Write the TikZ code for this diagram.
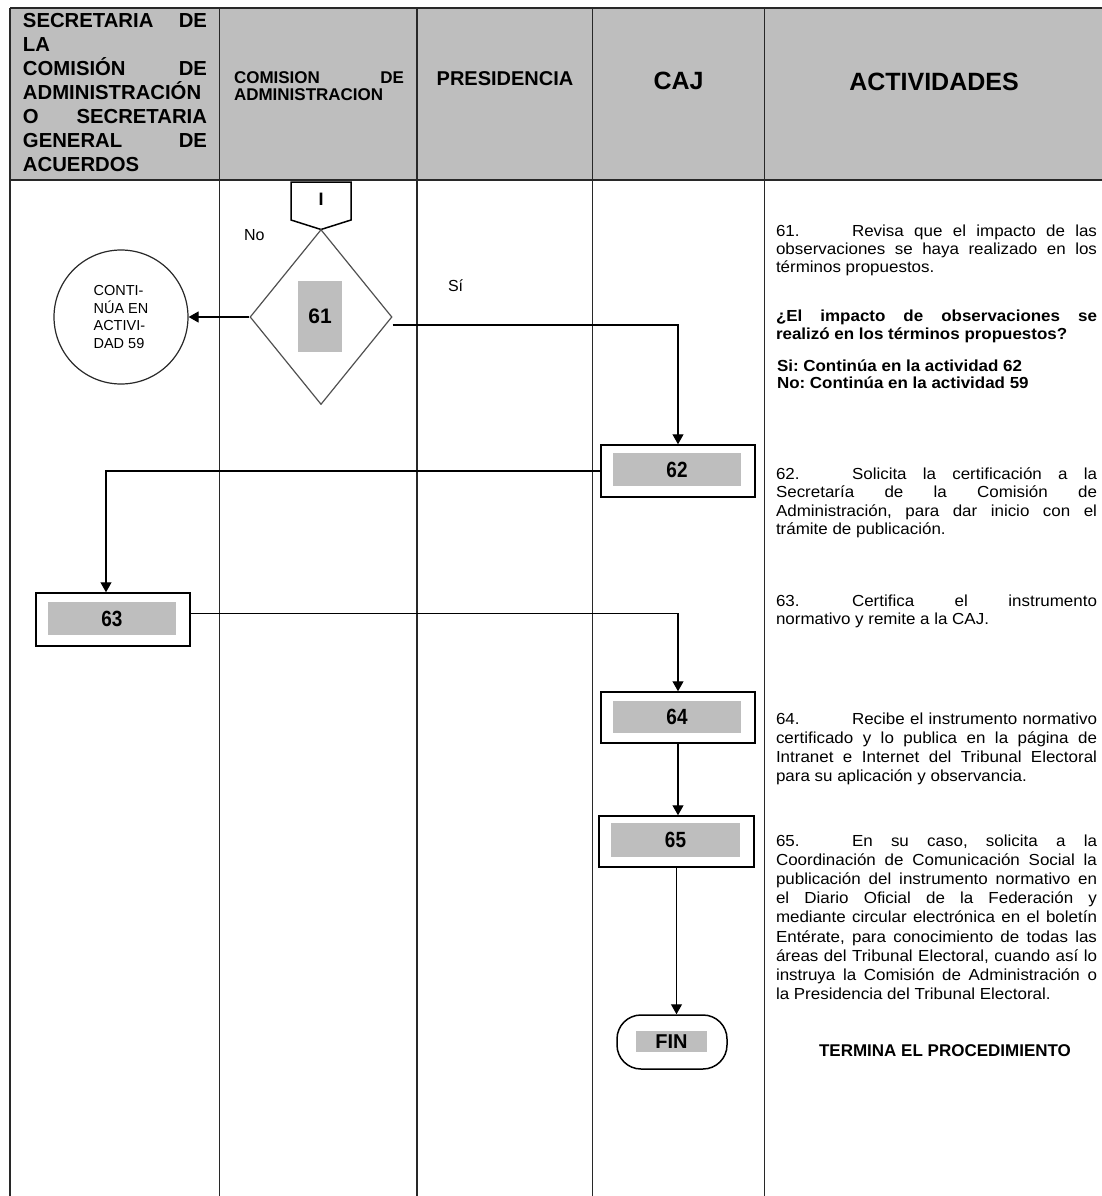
\documentclass[tikz,border=0pt]{standalone}
\usepackage{fontspec}
\setmainfont{Liberation Sans}
\newfontfamily\actfont[FakeStretch=1.06]{Liberation Sans}
\newfontfamily\numfont[FakeStretch=0.86]{Liberation Sans}
\usetikzlibrary{shapes.geometric,arrows.meta,calc}

\definecolor{hdrgray}{RGB}{190,190,190}
\definecolor{boxgray}{RGB}{190,190,190}
\definecolor{linegray}{RGB}{40,40,40}
\definecolor{diagray}{RGB}{80,80,80}

% justified line, left line, number with tab stop
\newcommand\jline[1]{\hbox to \hsize{#1}}
\newcommand\lline[1]{\hbox{#1}}
\newcommand\tabnum[1]{\hbox to 76pt{#1\hfil}}

\tikzset{
  tline/.style={line width=1.6pt, draw=linegray},
  arr/.style={line width=1.2pt, -{Triangle[length=10pt,width=11pt]}},
  outerbox/.style={draw, line width=1.5pt, inner sep=0, minimum width=154pt, minimum height=52pt},
  graybox/.style={fill=boxgray, inner sep=0, minimum width=128pt, minimum height=33pt,
    font=\numfont\bfseries\fontsize{22}{22}\selectfont},
  txt/.style={inner sep=0, outer sep=0},
}

\begin{document}
\frenchspacing
\begin{tikzpicture}[x=1pt, y=-1pt]
\useasboundingbox (0,0) rectangle (1102,1196);

% header band
\fill[hdrgray] (10,8) rectangle (1102,180);
\draw[line width=2.4pt, draw=linegray] (10,8) -- (1102,8);
\draw[line width=2pt, draw=linegray] (10,180) -- (1102,180);
\foreach \cx in {10,219.5,417,592.5,764.5}
  \draw[tline] (\cx,8) -- (\cx,1196);

% header titles
\node[txt, anchor=base west] (h1) at (23,28)
  {\bfseries\fontsize{20.3}{24}\selectfont\vtop{\hsize=184pt
    \jline{SECRETARIA DE}
    \lline{LA}
    \jline{COMISIÓN DE}
    \lline{ADMINISTRACIÓN}
    \jline{O SECRETARIA}
    \jline{GENERAL DE}
    \lline{ACUERDOS}}};
\node[txt, anchor=base west] (h2) at (234,84)
  {\bfseries\fontsize{17}{17}\selectfont\vtop{\hsize=170pt
    \jline{COMISION DE}
    \lline{ADMINISTRACION}}};
\node[txt, anchor=base, font=\bfseries\fontsize{20}{20}\selectfont] (h3) at (505,86) {PRESIDENCIA};
\node[txt, anchor=base, font=\bfseries\fontsize{25}{25}\selectfont] (h4) at (678.5,90) {CAJ};
\node[txt, anchor=base, font=\bfseries\fontsize{25}{25}\selectfont] (h5) at (934,91) {ACTIVIDADES};

% off-page connector
\draw[line width=1.5pt] (291,182) -- (351,182) -- (351,220) -- (321,229.5) -- (291,220) -- cycle;
\node[txt, font=\bfseries\fontsize{18}{18}\selectfont] (conI) at (321,199) {I};

% decision 61
\node[diamond, draw=diagray, line width=1.2pt, inner sep=0, minimum width=142pt, minimum height=175pt] (d61) at (321,317) {};
\node[fill=boxgray, inner sep=0, minimum width=44pt, minimum height=71pt,
  font=\bfseries\fontsize{21}{21}\selectfont] (g61) at (320,316.5) {61};
\node[txt, anchor=base west, font=\fontsize{16}{16}\selectfont] (lno) at (244,240) {No};
\node[txt, anchor=base west, font=\fontsize{16}{16}\selectfont] (lsi) at (448,291) {Sí};

% connector to activity 59
\node[circle, draw=linegray, line width=1.2pt, inner sep=0, minimum size=134pt, align=left,
  font=\fontsize{14.5}{17.6}\selectfont] (c59) at (121,317) {CONTI-\\NÚA EN\\ACTIVI-\\DAD 59};

% process boxes
\node[outerbox] (b62) at (678,471) {};
\node[graybox] (g62) at (677,469.5) {62};
\node[outerbox, minimum height=53pt] (b63) at (113,619.5) {};
\node[graybox] (g63) at (112,618.5) {63};
\node[outerbox, minimum height=51pt] (b64) at (678,717.5) {};
\node[graybox, minimum height=32pt] (g64) at (677,717) {64};
\node[outerbox, minimum width=155pt, minimum height=51pt] (b65) at (676.5,841.5) {};
\node[graybox, minimum width=129pt, minimum height=34pt] (g65) at (675.5,840) {65};
\node[draw, line width=1.5pt, rounded corners=24pt, inner sep=0, minimum width=110pt, minimum height=54pt] (fin) at (672,1042) {};
\node[fill=boxgray, inner sep=0, minimum width=71pt, minimum height=21pt,
  font=\bfseries\fontsize{20}{20}\selectfont] (gfin) at (671.5,1041.5) {FIN};

% flow
\draw[arr] (d61.west) -- (c59.east);
\draw[arr] ([yshift=-8pt]d61.east) -| (b62.north);
\draw[arr] (b62.west) -| ([xshift=-7pt]b63.north);
\draw[arr] ([yshift=6pt]b63.east) -| (b64.north);
\draw[arr] (b64.south) -- (b64.south |- b65.north);
\draw[arr] (b65.south) -- (b65.south |- fin.north);

% activity descriptions
\node[txt, anchor=base west] (t61) at (776,236.5)
  {\actfont\fontsize{16}{18}\selectfont\vtop{\hsize=321pt
    \jline{\tabnum{61.}Revisa que el impacto de las}
    \jline{observaciones se haya realizado en los}
    \lline{términos propuestos.}}};
\node[txt, anchor=base west] (q61) at (776,321)
  {\actfont\bfseries\fontsize{16}{18}\selectfont\vtop{\hsize=321pt
    \jline{¿El impacto de observaciones se}
    \lline{realizó en los términos propuestos?}}};
\node[txt, anchor=base west] (r61) at (777,371)
  {\actfont\bfseries\fontsize{16}{17.5}\selectfont\vtop{\hsize=321pt
    \lline{Si: Continúa en la actividad 62}
    \lline{No: Continúa en la actividad 59}}};
\node[txt, anchor=base west] (t62) at (776,479)
  {\actfont\fontsize{16}{18.5}\selectfont\vtop{\hsize=321pt
    \jline{\tabnum{62.}Solicita la certificación a la}
    \jline{Secretaría de la Comisión de}
    \jline{Administración, para dar inicio con el}
    \lline{trámite de publicación.}}};
\node[txt, anchor=base west] (t63) at (776,606)
  {\actfont\fontsize{16}{18.5}\selectfont\vtop{\hsize=321pt
    \jline{\tabnum{63.}Certifica el instrumento}
    \lline{normativo y remite a la CAJ.}}};
\node[txt, anchor=base west] (t64) at (776,724)
  {\actfont\fontsize{16}{19}\selectfont\vtop{\hsize=321pt
    \jline{\tabnum{64.}Recibe el instrumento normativo}
    \jline{certificado y lo publica en la página de}
    \jline{Intranet e Internet del Tribunal Electoral}
    \lline{para su aplicación y observancia.}}};
\node[txt, anchor=base west] (t65) at (776,846)
  {\actfont\fontsize{16}{19.2}\selectfont\vtop{\hsize=321pt
    \jline{\tabnum{65.}En su caso, solicita a la}
    \jline{Coordinación de Comunicación Social la}
    \jline{publicación del instrumento normativo en}
    \jline{el Diario Oficial de la Federación y}
    \jline{mediante circular electrónica en el boletín}
    \jline{Entérate, para conocimiento de todas las}
    \jline{áreas del Tribunal Electoral, cuando así lo}
    \jline{instruya la Comisión de Administración o}
    \lline{la Presidencia del Tribunal Electoral.}}};
\node[txt, anchor=base, font=\bfseries\fontsize{17}{17}\selectfont] (fin65) at (945,1056.5) {TERMINA EL PROCEDIMIENTO};

\end{tikzpicture}
\end{document}
